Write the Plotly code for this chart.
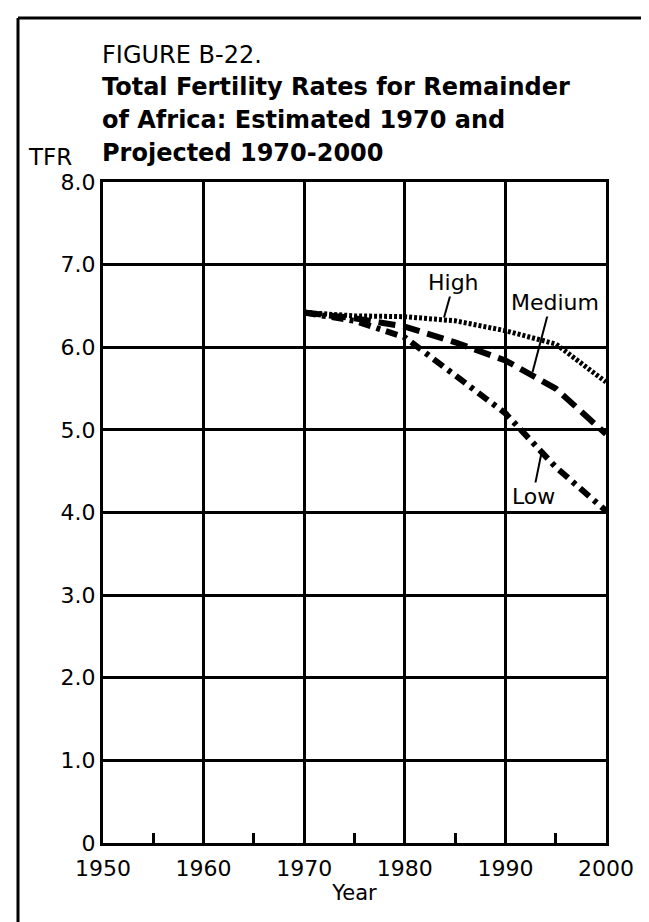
import plotly.graph_objects as go

# adatok
years = [1970, 1975, 1980, 1985, 1990, 1995, 2000]
high = [6.42, 6.38, 6.37, 6.32, 6.20, 6.04, 5.58]
medium = [6.42, 6.35, 6.25, 6.06, 5.84, 5.50, 4.95]
low = [6.42, 6.32, 6.12, 5.66, 5.20, 4.55, 4.02]

x_ticks = [1950, 1960, 1970, 1980, 1990, 2000]
y_ticks = [0, 1, 2, 3, 4, 5, 6, 7, 8]
y_labels = ["0", "1.0", "2.0", "3.0", "4.0", "5.0", "6.0", "7.0", "8.0"]

FONT = "DejaVu Sans, Verdana, sans-serif"
W, H = 649, 922
L, R, T, B = 95, 51, 174, 87


def px_x(p):
    return (p - L) / (W - L - R)


def px_y(p):
    return (H - B - p) / (H - T - B)


fig = go.Figure()
fig.add_trace(go.Scatter(x=years, y=high, mode='lines', name='High',
                         line=dict(color='black', width=5, dash='3px,2px')))
fig.add_trace(go.Scatter(x=years, y=medium, mode='lines', name='Medium',
                         line=dict(color='black', width=6, dash='17px,8px')))
fig.add_trace(go.Scatter(x=years, y=low, mode='lines', name='Low',
                         line=dict(color='black', width=6, dash='12px,6px,4px,6px')))

fig.update_layout(
    width=W, height=H,
    paper_bgcolor='white', plot_bgcolor='white',
    margin=dict(l=L, r=R, t=T, b=B),
    showlegend=False,
    font=dict(family=FONT, color='black', size=22),
)

fig.update_xaxes(
    range=[1950, 2000], tickvals=x_ticks, ticks='',
    showgrid=True, gridcolor='black', gridwidth=2.5,
    showline=True, linecolor='black', linewidth=3, mirror=True,
    zeroline=False, tickfont=dict(size=22), ticklabelstandoff=4,
    minor=dict(tickvals=[1955, 1965, 1975, 1985, 1995], ticks='inside',
               ticklen=10, tickwidth=2.5, tickcolor='black', showgrid=False),
    title=dict(text='Year', font=dict(size=21), standoff=4),
)
fig.update_yaxes(
    range=[0, 8], tickvals=y_ticks, ticktext=y_labels, ticks='',
    showgrid=True, gridcolor='black', gridwidth=2.5,
    showline=True, linecolor='black', linewidth=3, mirror=True,
    zeroline=False, tickfont=dict(size=22), ticklabelstandoff=0,
)

# címek
fig.add_annotation(xref='paper', yref='paper', x=px_x(92), y=px_y(47),
                   xanchor='left', yanchor='middle', showarrow=False,
                   text='FIGURE B-22.', font=dict(size=24))
title_lines = ['Total Fertility Rates for Remainder',
               'of Africa: Estimated 1970 and',
               'Projected 1970-2000']
for i, line in enumerate(title_lines):
    fig.add_annotation(xref='paper', yref='paper', x=px_x(92), y=px_y(79 + 33 * i),
                       xanchor='left', yanchor='middle', showarrow=False,
                       text='<b>' + line + '</b>', font=dict(size=24))
fig.add_annotation(xref='paper', yref='paper', x=px_x(66), y=px_y(149),
                   xanchor='right', yanchor='middle', showarrow=False,
                   text='TFR', font=dict(size=23))

# sorozatcímkék vezetővonallal
labels = [('High', 1984.8, 6.78, 1984.5, 6.62, 1983.9, 6.36),
          ('Medium', 1994.9, 6.54, 1994.3, 6.44, 1992.7, 5.70),
          ('Low', 1992.8, 4.19, 1992.9, 4.31, 1993.6, 4.73)]
for txt, tx, ty, x0, y0, x1, y1 in labels:
    fig.add_annotation(x=tx, y=ty, text=txt, showarrow=False,
                       font=dict(size=22), bgcolor='white')
    fig.add_shape(type='line', x0=x0, y0=y0, x1=x1, y1=y1,
                  line=dict(color='black', width=2))

# külső keret (felső és bal oldali vonal)
fig.add_shape(type='line', xref='paper', yref='paper',
              x0=px_x(10), y0=px_y(10), x1=px_x(660), y1=px_y(10),
              line=dict(color='black', width=3))
fig.add_shape(type='line', xref='paper', yref='paper',
              x0=px_x(10), y0=px_y(10), x1=px_x(10), y1=px_y(930),
              line=dict(color='black', width=3))

fig.write_html("out.html")
